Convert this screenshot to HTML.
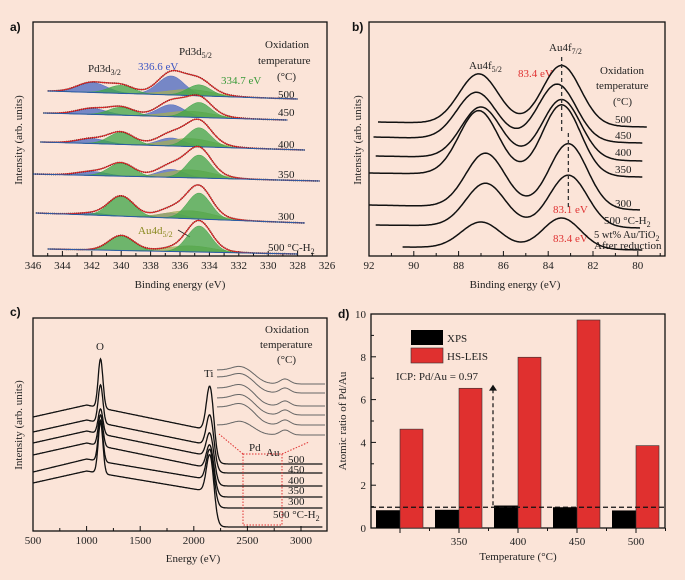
<!DOCTYPE html>
<html><head><meta charset="utf-8">
<style>
html,body{margin:0;padding:0;background:#fbe4d8;}
svg{display:block;font-family:"Liberation Serif",serif;}
.t{font-size:11px;fill:#222;}
.s{font-size:10.5px;fill:#222;}
.pl{font-family:"Liberation Sans",sans-serif;font-weight:bold;font-size:12px;fill:#111;}
</style></head>
<body>
<svg id="fig" width="685" height="580" viewBox="0 0 685 580">
<rect x="0" y="0" width="685" height="580" fill="#fbe4d8"/>
<g id="pa">
<text class="pl" x="10" y="31">a)</text>
<text class="t" x="88" y="72">Pd3d<tspan font-size="8" dy="3">3/2</tspan></text>
<text class="t" x="138" y="70" style="fill:#3b55c4">336.6 eV</text>
<text class="t" x="179" y="55">Pd3d<tspan font-size="8" dy="3">5/2</tspan></text>
<text class="t" x="221" y="84" style="fill:#3a9a3a">334.7 eV</text>
<text class="t" x="265" y="48">Oxidation</text>
<text class="t" x="258" y="64">temperature</text>
<text class="t" x="277" y="80">(°C)</text>
<text class="t" x="278" y="98">500</text>
<text class="t" x="278" y="116">450</text>
<text class="t" x="278" y="148">400</text>
<text class="t" x="278" y="178">350</text>
<text class="t" x="278" y="220">300</text>
<text class="t" x="268" y="251">500 °C-H<tspan font-size="8" dy="3">2</tspan></text>
<text class="t" x="138" y="234" style="fill:#8a8a20">Au4d<tspan font-size="8" dy="3">5/2</tspan></text>
<line x1="178" y1="230" x2="190" y2="237" stroke="#222" stroke-width="0.8"/>
<text class="t" x="22" y="140" text-anchor="middle" transform="rotate(-90 22 140)">Intensity (arb. units)</text>
<text class="t" x="180" y="288" text-anchor="middle">Binding energy (eV)</text>
</g>
<g id="pb">
<text class="pl" x="352" y="31">b)</text>
<text class="t" x="469" y="69">Au4f<tspan font-size="8" dy="3">5/2</tspan></text>
<text class="t" x="549" y="51">Au4f<tspan font-size="8" dy="3">7/2</tspan></text>
<text class="t" x="518" y="77" style="fill:#e03232">83.4 eV</text>
<text class="t" x="553" y="213" style="fill:#e03232">83.1 eV</text>
<text class="t" x="553" y="242" style="fill:#e03232">83.4 eV</text>
<text class="t" x="600" y="74">Oxidation</text>
<text class="t" x="596" y="89">temperature</text>
<text class="t" x="613" y="105">(°C)</text>
<text class="t" x="615" y="123">500</text>
<text class="t" x="615" y="139">450</text>
<text class="t" x="615" y="156">400</text>
<text class="t" x="615" y="173">350</text>
<text class="t" x="615" y="207">300</text>
<text class="t" x="604" y="224">500 °C-H<tspan font-size="8" dy="3">2</tspan></text>
<text class="s" x="594" y="238">5 wt% Au/TiO<tspan font-size="8" dy="3">2</tspan></text>
<text class="t" x="594" y="249">After reduction</text>
<text class="t" x="361" y="140" text-anchor="middle" transform="rotate(-90 361 140)">Intensity (arb. units)</text>
<text class="t" x="515" y="288" text-anchor="middle">Binding energy (eV)</text>
</g>
<g id="pc">
<text class="pl" x="10" y="316">c)</text>
<text class="t" x="96" y="350">O</text>
<text class="t" x="204" y="377">Ti</text>
<text class="t" x="265" y="333">Oxidation</text>
<text class="t" x="260" y="348">temperature</text>
<text class="t" x="277" y="363">(°C)</text>
<text class="t" x="249" y="451">Pd</text>
<text class="t" x="266" y="456">Au</text>
<text class="t" x="288" y="463">500</text>
<text class="t" x="288" y="473">450</text>
<text class="t" x="288" y="484">400</text>
<text class="t" x="288" y="494">350</text>
<text class="t" x="288" y="505">300</text>
<text class="t" x="273" y="518">500 °C-H<tspan font-size="8" dy="3">2</tspan></text>
<text class="t" x="22" y="425" text-anchor="middle" transform="rotate(-90 22 425)">Intensity (arb. units)</text>
<text class="t" x="193" y="562" text-anchor="middle">Energy (eV)</text>
</g>
<g id="pd">
<text class="pl" x="338" y="318">d)</text>
<rect x="411" y="330" width="32" height="15" fill="#000"/>
<rect x="411" y="348" width="32" height="15" fill="#e0302f" stroke="#333" stroke-width="0.6"/>
<text class="t" x="447" y="342">XPS</text>
<text class="t" x="447" y="360">HS-LEIS</text>
<text class="t" x="396" y="380">ICP: Pd/Au = 0.97</text>
<text class="t" x="346" y="421" text-anchor="middle" transform="rotate(-90 346 421)">Atomic ratio of Pd/Au</text>
<text class="t" x="518" y="560" text-anchor="middle">Temperature (°C)</text>
</g>
</svg>
<script>
// ---------- Panel a data ----------
const aStart=[345,345.3,345.5,346,345.8,345];
const aEnd=[328,328.7,327.5,326.5,327.5,328];
const aBaseL=[165,143,114,82,43,7];
const aBaseR=[157,136,106,75,33,2];
const aPd342=[10,6,5,4,2,0];
const aPd340=[8,8,12,13,20,15];
const aPd336=[19,12,8,8,5,0];
const aPd334=[11,15,19,23,26,26];
const aBroad=[6,6,8,8,8,6];
const aTicks=[346,344,342,340,338,336,334,332,330,328,326];
// ---------- Panel b data ----------
const bStart=[91.6,91.8,91.7,92,92,91.7,90.5];
const bEnd=[79.6,79.8,79.8,79.8,79.9,79.9,79.8];
const bBaseL=[134,119,100,83,51,31,9];
const bBaseR=[129,113,95,79,46,28,6];
const bC1=[87.1,87.2,87.0,87.1,86.8,86.8,87.0];
const bC2=[83.4,83.6,83.4,83.4,83.1,83.1,83.4];
const bH1=[50,47,51,64,54,43,26];
const bH2=[60,57,60,71,65,52,31];
const bTicks=[92,90,88,86,84,82,80];
// ---------- Panel c data ----------
const cBg500=[114,99,88,76,59,48];
const cBg1000=[126,111,100,88,72,60];
const cBg2000=[104,89,78,66,54,42];
const cFlat=[67,58,45,34,23,4];
const cOH=[49,38,25,31,41,51];
const cTiH=[46,32,25,25,32,39];
const cInsetL=[161,154,143,133,124,106];
const cInsetR=[147,138,125,116,106,96];
const cTicks=[500,1000,1500,2000,2500,3000];
// ---------- Panel d data ----------
const dCats=['300','350','400','450','500'];
const dTickLabels=['','350','400','450','500'];
const dXps=[0.83,0.85,1.05,0.97,0.82];
const dLeis=[4.62,6.53,7.98,9.72,3.85];
const dIcp=0.97;
const dArrowTop=6.7;
const dYTicks=[0,2,4,6,8,10];

const NS='http://www.w3.org/2000/svg';
function mk(parent,tag,attrs,name){
  const el=document.createElementNS(NS,tag);
  for(const k in attrs) el.setAttribute(k,attrs[k]);
  
  
  parent.appendChild(el);
  return el;
}
function txt(parent,x,y,s,anchor,name){
  const t=mk(parent,'text',{x:x,y:y,'class':'t','text-anchor':anchor},name);
  t.textContent=s;
  return t;
}
function gauss(x,c,s){return Math.exp(-0.5*((x-c)/s)**2);}
function frame(g,x0,y0,x1,y1,name){
  mk(g,'rect',{x:x0,y:y0,width:x1-x0,height:y1-y0,fill:'none',stroke:'#111','stroke-width':1.3},name);
}
function pathD(pts){return pts.map((p,i)=>(i?'L':'M')+p[0].toFixed(1)+' '+p[1].toFixed(1)).join('');}

(function(){
  const g=document.getElementById('pa');
  const X0=33,X1=327,Y0=22,Y1=256;
  const xA=e=>X0+(346-e)*(X1-X0)/20;
  const yA=v=>Y1-v;
  frame(g,X0,Y0,X1,Y1,'plot-frame-a');
  aTicks.forEach(t=>{
    mk(g,'line',{x1:xA(t),x2:xA(t),y1:Y1,y2:Y1-5,stroke:'#111','stroke-width':1},'x-tick-a');
    txt(g,xA(t),Y1+13,String(t),'middle','x-tick-label-a');
  });
  for(let t=345;t>326;t-=2){
    mk(g,'line',{x1:xA(t),x2:xA(t),y1:Y1,y2:Y1-3,stroke:'#111','stroke-width':1},'x-minor-tick-a');
  }
  const comps=[
    {c:342.0,s:1.0,arr:aPd342,col:'#4a68c0'},
    {c:336.6,s:0.9,arr:aPd336,col:'#4a68c0'},
    {c:335.3,s:1.6,arr:aBroad,col:'#a3ad58'},
    {c:340.0,s:0.85,arr:aPd340,col:'#3fa548'},
    {c:334.7,s:0.8,arr:aPd334,col:'#3fa548'}
  ];
  for(let i=0;i<aStart.length;i++){
    const base=e=>aBaseL[i]+(aBaseR[i]-aBaseL[i])*(aStart[i]-e)/(aStart[i]-aEnd[i]);
    comps.forEach(cp=>{
      if(cp.arr[i]<=0) return;
      const top=[],bot=[];
      for(let e=aStart[i];e>=aEnd[i];e-=0.1){
        top.push([xA(e),yA(base(e)+cp.arr[i]*gauss(e,cp.c,cp.s))]);
        bot.unshift([xA(e),yA(base(e))]);
      }
      mk(g,'path',{d:pathD(top.concat(bot))+'Z',fill:cp.col,'fill-opacity':0.75,stroke:cp.col,'stroke-width':0.5},'component-peak-a');
    });
    const tot=[];
    for(let e=aStart[i];e>=aEnd[i]-0.001;e-=0.05){
      let v=base(e);
      comps.forEach(cp=>{v+=cp.arr[i]*gauss(e,cp.c,cp.s);});
      tot.push([xA(e),yA(v)]);
    }
    mk(g,'path',{d:pathD(tot),fill:'none',stroke:'#111','stroke-width':1.6,'stroke-dasharray':'1 1'},'data-points-a');
    mk(g,'path',{d:pathD(tot),fill:'none',stroke:'#e02020','stroke-width':1},'fit-line-a');
    mk(g,'path',{d:pathD([[xA(aStart[i]),yA(aBaseL[i])],[xA(aEnd[i]),yA(aBaseR[i])]]),fill:'none',stroke:'#2a5aa8','stroke-width':1},'baseline-a');
  }
})();

(function(){
  const g=document.getElementById('pb');
  const X0=369,X1=665,Y0=22,Y1=256;
  const xB=e=>X0+(92-e)*22.4;
  const yB=v=>Y1-v;
  frame(g,X0,Y0,X1,Y1,'plot-frame-b');
  bTicks.forEach(t=>{
    mk(g,'line',{x1:xB(t),x2:xB(t),y1:Y1,y2:Y1-5,stroke:'#111','stroke-width':1},'x-tick-b');
    txt(g,xB(t),Y1+13,String(t),'middle','x-tick-label-b');
  });
  for(let t=91;t>=79;t-=2){
    mk(g,'line',{x1:xB(t),x2:xB(t),y1:Y1,y2:Y1-3,stroke:'#111','stroke-width':1},'x-minor-tick-b');
  }
  for(let i=0;i<bStart.length;i++){
    const pts=[];
    for(let e=bStart[i];e>=bEnd[i];e-=0.05){
      const b=bBaseL[i]+(bBaseR[i]-bBaseL[i])*(bStart[i]-e)/(bStart[i]-bEnd[i]);
      const v=b+bH1[i]*gauss(e,bC1[i],0.88)+bH2[i]*gauss(e,bC2[i],0.85);
      pts.push([xB(e),yB(v)]);
    }
    mk(g,'path',{d:pathD(pts),fill:'none',stroke:'#111','stroke-width':1.5},'spectrum-b');
  }
  mk(g,'line',{x1:xB(83.4),x2:xB(83.4),y1:57,y2:132,stroke:'#333','stroke-width':1.3,'stroke-dasharray':'4 3'},'dashed-line-83-4');
  mk(g,'line',{x1:xB(83.1),x2:xB(83.1),y1:133,y2:207,stroke:'#333','stroke-width':1.3,'stroke-dasharray':'4 3'},'dashed-line-83-1');
})();

(function(){
  const g=document.getElementById('pc');
  const X0=33,X1=327,Y0=318,Y1=531;
  const xC=e=>X0+(e-500)*0.1072;
  const yC=v=>Y1-v;
  frame(g,X0,Y0,X1,Y1,'plot-frame-c');
  cTicks.forEach(t=>{
    mk(g,'line',{x1:xC(t),x2:xC(t),y1:Y1,y2:Y1-5,stroke:'#111','stroke-width':1},'x-tick-c');
    txt(g,xC(t),Y1+13,String(t),'middle','x-tick-label-c');
  });
  for(let t=750;t<3250;t+=500){
    mk(g,'line',{x1:xC(t),x2:xC(t),y1:Y1,y2:Y1-3,stroke:'#111','stroke-width':1},'x-minor-tick-c');
  }
  for(let i=0;i<cFlat.length;i++){
    const pts=[];
    for(let e=500;e<=3200;e+=5){
      let bg;
      if(e<1000) bg=cBg500[i]+(cBg1000[i]-cBg500[i])*(e-500)/500;
      else bg=cBg1000[i]+(cBg2000[i]-cBg1000[i])*(e-1000)/1000;
      const sw=1/(1+Math.exp(-(e-2200)/18));
      let v=bg*(1-sw)+cFlat[i]*sw;
      v+=cOH[i]*gauss(e,1130,22)+cTiH[i]*gauss(e,2150,32);
      pts.push([xC(e),yC(v)]);
    }
    mk(g,'path',{d:pathD(pts),fill:'none',stroke:'#111','stroke-width':1.3},'spectrum-c');
  }
  const iX0=217,iX1=325;
  for(let i=0;i<cInsetL.length;i++){
    const pts=[];
    for(let x=iX0;x<=iX1;x+=1){
      const step=1/(1+Math.exp(-(x-257)/5));
      let v=cInsetL[i]*(1-step)+cInsetR[i]*step;
      v+=4*gauss(x,240,8)+5*gauss(x,285,5);
      pts.push([x,yC(v)]);
    }
    mk(g,'path',{d:pathD(pts),fill:'none',stroke:'#666','stroke-width':1},'inset-trace-c');
  }
  mk(g,'rect',{x:243,y:454,width:39,height:71,fill:'none',stroke:'#e03030','stroke-width':1,'stroke-dasharray':'1.5 1.5'},'zoom-box-c');
  mk(g,'line',{x1:243,y1:454,x2:219,y2:434,stroke:'#e03030','stroke-width':1,'stroke-dasharray':'1.5 1.5'},'zoom-arrow-left');
  mk(g,'line',{x1:282,y1:454,x2:309,y2:442,stroke:'#e03030','stroke-width':1,'stroke-dasharray':'1.5 1.5'},'zoom-arrow-right');
})();

(function(){
  const g=document.getElementById('pd');
  const X0=371,X1=665,Y0=314,Y1=528;
  const yD=v=>Y1-v*(Y1-Y0)/10;
  const xD=i=>400+i*59;
  frame(g,X0,Y0,X1,Y1,'plot-frame-d');
  dYTicks.forEach(t=>{
    mk(g,'line',{x1:X0,x2:X0+5,y1:yD(t),y2:yD(t),stroke:'#111','stroke-width':1},'y-tick-d');
    txt(g,X0-5,yD(t)+4,String(t),'end','y-tick-label-d');
  });
  for(let t=1;t<10;t+=2){
    mk(g,'line',{x1:X0,x2:X0+3,y1:yD(t),y2:yD(t),stroke:'#111','stroke-width':1},'y-minor-tick-d');
  }
  dCats.forEach((c,i)=>{
    mk(g,'rect',{x:xD(i)-24,y:yD(dXps[i]),width:24,height:Y1-yD(dXps[i]),fill:'#000'},'bar-xps-'+c);
    mk(g,'rect',{x:xD(i),y:yD(dLeis[i]),width:23,height:Y1-yD(dLeis[i]),fill:'#e0302f',stroke:'#333','stroke-width':0.6},'bar-hsleis-'+c);
    mk(g,'line',{x1:xD(i),x2:xD(i),y1:Y1,y2:Y1+5,stroke:'#111','stroke-width':1},'x-tick-d');
    mk(g,'line',{x1:xD(i)+29.5,x2:xD(i)+29.5,y1:Y1,y2:Y1+3,stroke:'#111','stroke-width':1},'x-minor-tick-d');
    txt(g,xD(i),Y1+17,dTickLabels[i],'middle','x-tick-label-d');
  });
  mk(g,'line',{x1:X0,x2:X1,y1:yD(dIcp),y2:yD(dIcp),stroke:'#111','stroke-width':1.2,'stroke-dasharray':'5 3'},'icp-reference-line');
  mk(g,'line',{x1:493,x2:493,y1:yD(dIcp)-2,y2:yD(dArrowTop)+5,stroke:'#111','stroke-width':1.2,'stroke-dasharray':'4 3'},'icp-arrow-line');
  mk(g,'path',{d:'M489 '+(yD(dArrowTop)+6)+' L493 '+yD(dArrowTop)+' L497 '+(yD(dArrowTop)+6)+'Z',fill:'#111'},'icp-arrow-head');
})();
</script>
</body></html>
